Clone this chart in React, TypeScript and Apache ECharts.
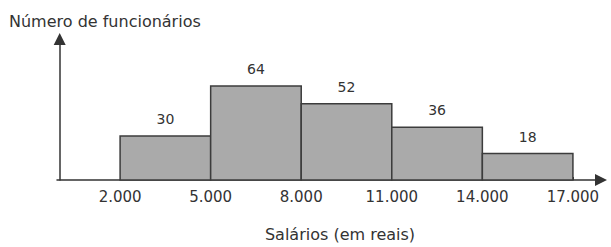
import React, { useEffect, useRef } from "react";
import * as echarts from "echarts";

const binStarts = [2000, 5000, 8000, 11000, 14000];
const binEnds = [5000, 8000, 11000, 14000, 17000];
const counts = [30, 64, 52, 36, 18];
const tickValues = [2000, 5000, 8000, 11000, 14000, 17000];
const tickLabels = ["2.000", "5.000", "8.000", "11.000", "14.000", "17.000"];
const xName = "Salários (em reais)";
const yName = "Número de funcionários";

const FONT = "DejaVu Sans";
const TEXT = "#333333";

export default function App() {
  const ref = useRef<HTMLDivElement>(null);
  useEffect(() => {
    if (!ref.current) return;
    const chart = echarts.init(ref.current, undefined, { renderer: "svg" });
    const data = binStarts.map((s, i) => [s, binEnds[i], counts[i]]);
    chart.setOption({
      animation: false,
      backgroundColor: "#ffffff",
      grid: { left: 57, right: 10, top: 39, bottom: 64.5 },
      graphic: [
        {
          type: "text",
          left: 9,
          top: 13,
          style: { text: yName, fill: TEXT, fontSize: 16, fontFamily: FONT },
        },
      ],
      xAxis: {
        type: "value",
        min: -90,
        max: 17930,
        name: xName,
        nameLocation: "middle",
        nameGap: 46,
        nameTextStyle: { color: TEXT, fontSize: 16, fontFamily: FONT, padding: [0, 0, 0, 22] },
        splitLine: { show: false },
        axisLine: {
          show: true,
          symbol: ["none", "triangle"],
          symbolSize: [12, 12],
          lineStyle: { color: "#333", width: 1.5 },
        },
        axisTick: {
          show: true,
          customValues: tickValues,
          inside: true,
          length: 3,
          lineStyle: { color: "#333" },
        },
        axisLabel: {
          customValues: tickValues,
          formatter: (v: number) => tickLabels[tickValues.indexOf(v)] ?? "",
          margin: 9,
          color: TEXT,
          fontSize: 15,
          fontFamily: FONT,
        },
      },
      yAxis: {
        type: "value",
        min: 0,
        max: 96,
        splitLine: { show: false },
        axisTick: { show: false },
        axisLabel: { show: false },
        axisLine: {
          show: true,
          symbol: ["none", "triangle"],
          symbolSize: [12, 12],
          lineStyle: { color: "#333", width: 1.5 },
        },
      },
      series: [
        {
          type: "custom",
          data,
          encode: { x: [0, 1], y: 2 },
          renderItem: (params: any, api: any) => {
            const start = api.value(0);
            const end = api.value(1);
            const count = api.value(2);
            const p0 = api.coord([start, count]);
            const p1 = api.coord([end, 0]);
            return {
              type: "rect",
              shape: { x: p0[0], y: p0[1], width: p1[0] - p0[0], height: p1[1] - p0[1] },
              style: { fill: "#aaaaaa", stroke: "#3c3c3c", lineWidth: 1.5 },
              textContent: {
                style: { text: String(count), fill: TEXT, fontSize: 14, fontFamily: FONT },
              },
              textConfig: { position: "top", distance: 9 },
            };
          },
        },
      ],
    });
    return () => chart.dispose();
  }, []);
  return (
    <div
      ref={ref}
      style={{ position: "fixed", left: 0, top: 0, width: 611, height: 247, background: "#fff" }}
    />
  );
}
